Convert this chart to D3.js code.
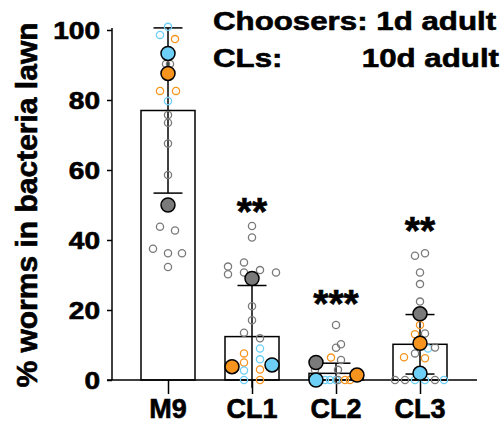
<!DOCTYPE html>
<html>
<head>
<meta charset="utf-8">
<script src="https://cdn.jsdelivr.net/npm/d3@7"></script>
<style>
  body { margin: 0; background: #fff; }
  text { font-family: "Liberation Sans", Arial, sans-serif; font-weight: bold; fill: #000; stroke: #000; stroke-width: 0.6; }
</style>
</head>
<body>
<div id="viz"></div>
<script>
const categories = ["M9", "CL1", "CL2", "CL3"];
const means = [77, 12.4, 1.9, 10.2];
const sds = [23.6, 14.6, 2.9, 8.5];
const stars = ["", "**", "***", "**"];
const starLevels = [0, 47.7, 21.4, 42.4];
const yTicks = [0, 20, 40, 60, 80, 100];

// small open circles: [category, dx (px offset from centre), value, replicate]
const points = [
  ["M9", 0, 100.9, "b"], ["M9", -8, 98.6, "b"], ["M9", 7, 97.4, "o"],
  ["M9", -2, 90.3, "g"], ["M9", 2, 90.3, "g"], ["M9", -8, 82.6, "o"], ["M9", 8, 82.6, "o"],
  ["M9", 0, 79.7, "b"], ["M9", 0, 75.7, "g"], ["M9", 0, 73.5, "g"], ["M9", 0, 67.6, "g"],
  ["M9", 0, 58.6, "g"], ["M9", -8, 43.8, "g"], ["M9", 7, 42.7, "g"], ["M9", -15, 37.5, "g"],
  ["M9", 0, 36.2, "g"], ["M9", 14, 36.2, "g"], ["M9", 0, 32.3, "g"],
  ["CL1", 0, 44, "g"], ["CL1", 0, 40.7, "g"], ["CL1", -8, 33.6, "g"], ["CL1", -24, 32.4, "g"],
  ["CL1", -24, 30.2, "g"], ["CL1", -8, 30.7, "g"], ["CL1", 8, 31.4, "g"], ["CL1", 24, 30.7, "g"],
  ["CL1", 0, 21.1, "g"], ["CL1", 0, 17.1, "g"], ["CL1", -8, 13.5, "g"], ["CL1", 8, 11.9, "g"],
  ["CL1", 8, 9, "b"], ["CL1", -8, 7.6, "o"], ["CL1", 8, 5.9, "b"], ["CL1", -8, 5.0, "o"],
  ["CL1", -8, 2.7, "b"], ["CL1", 8, 3.0, "o"], ["CL1", -8, 0, "b"], ["CL1", 8, 0, "o"],
  ["CL2", 0, 15.7, "g"], ["CL2", 5, 10.2, "g"], ["CL2", 0, 9.2, "g"], ["CL2", -5, 6.4, "o"],
  ["CL2", 5, 5.7, "g"], ["CL2", 2, 2.9, "g"], ["CL2", -21, 2.9, "g"],
  ["CL2", -11, 0, "b"], ["CL2", -6, 0, "b"], ["CL2", 0, 0, "b"], ["CL2", 2, 0, "g"],
  ["CL2", 9, 0, "o"], ["CL2", 14, 0, "o"],
  ["CL3", -5, 35.5, "g"], ["CL3", 5, 36.2, "g"], ["CL3", 0, 30.7, "g"], ["CL3", 0, 27.4, "g"],
  ["CL3", 0, 22.4, "g"], ["CL3", 0, 15.7, "o"], ["CL3", -5, 13.1, "o"], ["CL3", 5, 13.3, "g"],
  ["CL3", 8, 9.0, "b"], ["CL3", 15, 9.3, "g"], ["CL3", -5, 7.6, "g"], ["CL3", -16, 6.5, "o"],
  ["CL3", 5, 6.2, "o"],
  ["CL3", -25, 0, "g"], ["CL3", -15, 0, "g"], ["CL3", -5, 0, "b"], ["CL3", 5, 0, "b"],
  ["CL3", 15, 0, "g"], ["CL3", 24, 0, "b"]
];

// replicate means: [category, dx, value, replicate]
const repMeans = [
  ["M9", 0, 93.3, "b"], ["M9", 0, 87.6, "o"], ["M9", 0, 50, "g"],
  ["CL1", 0, 29.0, "g"], ["CL1", -20, 3.8, "o"], ["CL1", 20, 4.3, "b"],
  ["CL2", -20, 5.0, "g"], ["CL2", -20, 0, "b"], ["CL2", 21, 1.4, "o"],
  ["CL3", 0, 18.9, "g"], ["CL3", 0, 10.5, "o"], ["CL3", 0, 1.9, "b"]
];

const colors = { g: "#7a7a7a", o: "#f7941d", b: "#6dcff6" };

const width = 502, height = 428;
const svg = d3.select("#viz").append("svg")
  .attr("width", width).attr("height", height);

const x = d3.scalePoint().domain(categories).range([126, 462]).padding(0.5);
const y = d3.scaleLinear().domain([0, 100]).range([380, 30]);
const barW = 54, capW = 29;

// bars
svg.selectAll("rect.bar").data(categories).enter().append("rect")
  .attr("x", d => x(d) - barW / 2)
  .attr("y", (d, i) => y(means[i]))
  .attr("width", barW)
  .attr("height", (d, i) => y(0) - y(means[i]))
  .attr("fill", "#fff").attr("stroke", "#000").attr("stroke-width", 1.5);

// error bars
const eb = svg.selectAll("g.eb").data(categories).enter().append("g");
eb.append("line")
  .attr("x1", d => x(d)).attr("x2", d => x(d))
  .attr("y1", (d, i) => y(means[i] + sds[i]))
  .attr("y2", (d, i) => y(means[i] - sds[i]))
  .attr("stroke", "#000").attr("stroke-width", 1.5);
eb.append("line")
  .attr("x1", d => x(d) - capW / 2).attr("x2", d => x(d) + capW / 2)
  .attr("y1", (d, i) => y(means[i] + sds[i])).attr("y2", (d, i) => y(means[i] + sds[i]))
  .attr("stroke", "#000").attr("stroke-width", 1.5);
eb.filter((d, i) => means[i] - sds[i] > 0).append("line")
  .attr("x1", d => x(d) - capW / 2).attr("x2", d => x(d) + capW / 2)
  .attr("y1", d => { const i = categories.indexOf(d); return y(means[i] - sds[i]); })
  .attr("y2", d => { const i = categories.indexOf(d); return y(means[i] - sds[i]); })
  .attr("stroke", "#000").attr("stroke-width", 1.5);

// axes
const yAxis = svg.append("g").attr("transform", "translate(112,0)")
  .call(d3.axisLeft(y).tickValues(yTicks).tickSize(5).tickFormat(""));
yAxis.select(".domain").attr("d", `M0,${y(100) - 2}V${y(0)}`);
const xAxis = svg.append("g").attr("transform", `translate(0,${y(0)})`)
  .call(d3.axisBottom(x).tickSize(14).tickFormat(""));
xAxis.select(".domain").attr("d", "M107,0H477");
svg.selectAll(".domain, .tick line").attr("stroke", "#000").attr("stroke-width", 1.5);

// small points
svg.selectAll("circle.pt").data(points).enter().append("circle")
  .attr("cx", d => x(d[0]) + d[1])
  .attr("cy", d => y(d[2]))
  .attr("r", 3.6)
  .attr("fill", "none")
  .attr("stroke", d => colors[d[3]])
  .attr("stroke-width", 1.3);

// replicate means
svg.selectAll("circle.rep").data(repMeans).enter().append("circle")
  .attr("cx", d => x(d[0]) + d[1])
  .attr("cy", d => y(d[2]))
  .attr("r", 7)
  .attr("fill", d => colors[d[3]])
  .attr("stroke", "#000")
  .attr("stroke-width", 1.5);

// tick labels
svg.selectAll("text.yt").data(yTicks).enter().append("text")
  .attr("transform", d => `translate(100,${y(d) + 8.5}) scale(1.22,1)`)
  .attr("text-anchor", "end")
  .attr("font-size", 23)
  .text(d => d);

svg.selectAll("text.xt").data(categories).enter().append("text")
  .attr("x", d => x(d)).attr("y", 418)
  .attr("text-anchor", "middle").attr("font-size", 27)
  .text(d => d);

// axis title
svg.append("text")
  .attr("transform", "translate(37,205) rotate(-90)")
  .attr("text-anchor", "middle").attr("font-size", 30)
  .text("% worms in bacteria lawn");

// significance stars
svg.selectAll("text.star").data(categories).enter().append("text")
  .attr("x", d => x(d)).attr("y", (d, i) => y(starLevels[i]) + 12)
  .attr("text-anchor", "middle").attr("font-size", 39)
  .text((d, i) => stars[i]);

// header
svg.append("text").attr("transform", "translate(213,30) scale(1.18,1)")
  .attr("font-size", 26.5).text("Choosers: 1d adult");
svg.append("text").attr("transform", "translate(213,67) scale(1.18,1)")
  .attr("font-size", 26.5).text("CLs:");
svg.append("text").attr("transform", "translate(499,67) scale(1.18,1)")
  .attr("font-size", 26.5).attr("text-anchor", "end").text("10d adult");
</script>
</body>
</html>
